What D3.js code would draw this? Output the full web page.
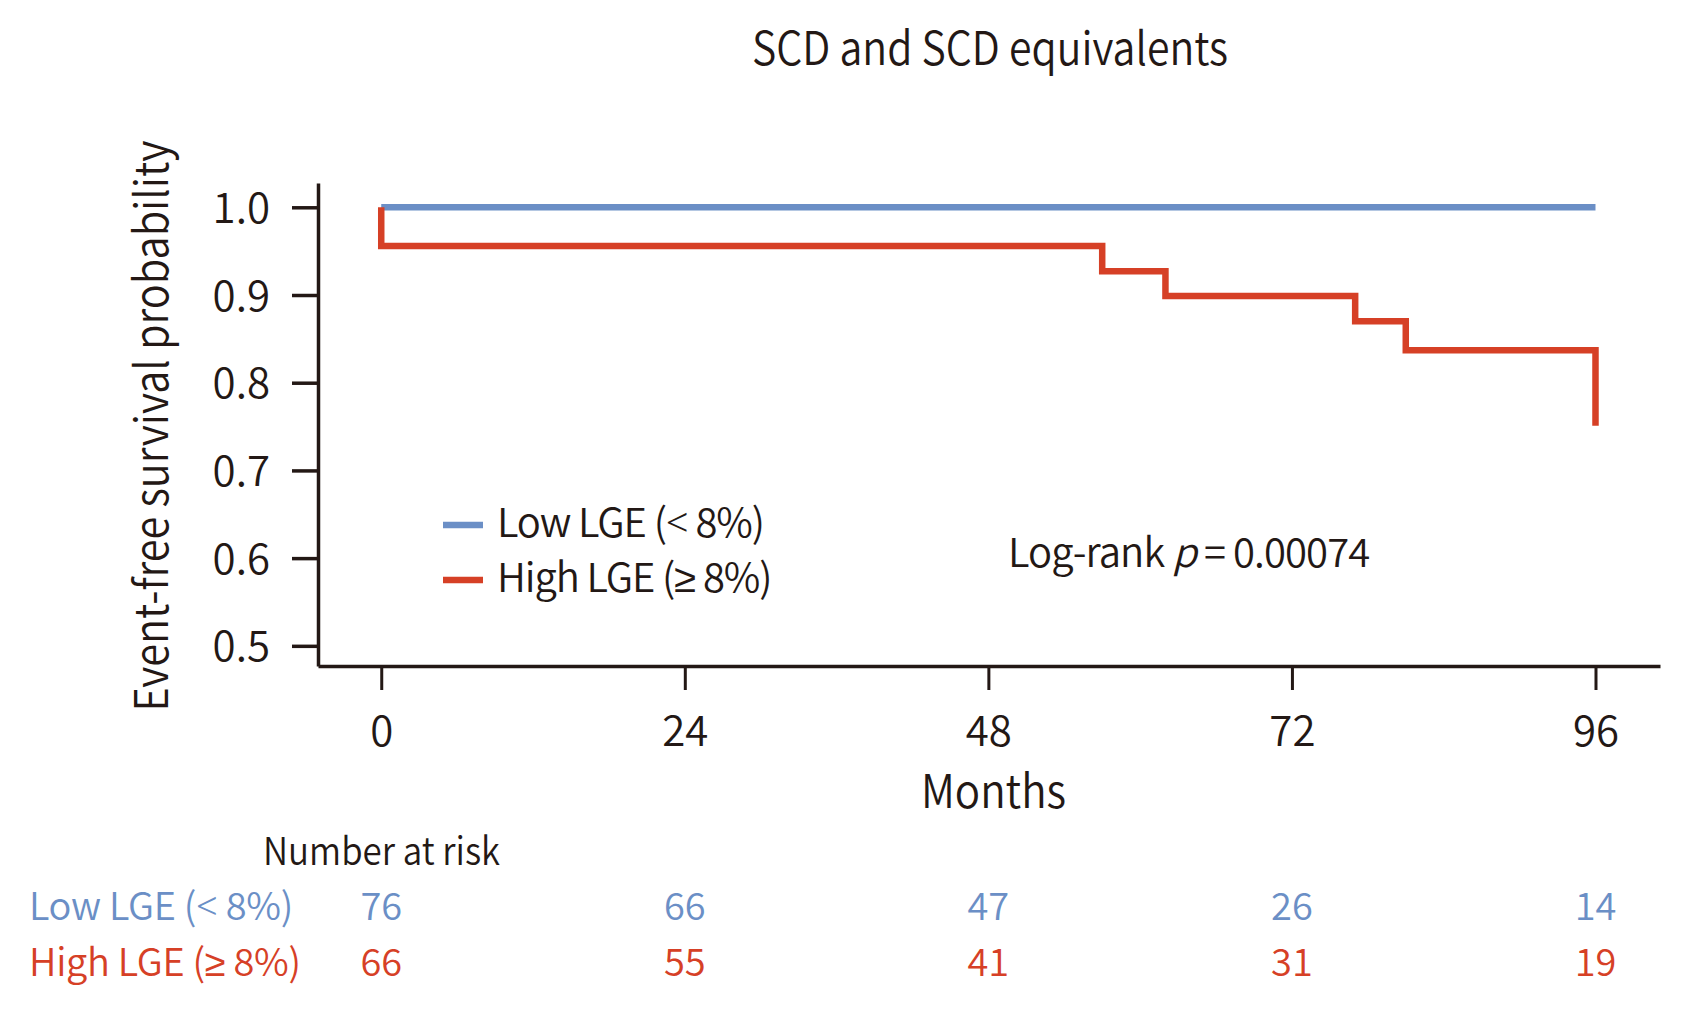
<!DOCTYPE html>
<html>
<head>
<meta charset="utf-8">
<script src="https://cdn.jsdelivr.net/npm/d3@7"></script>
<style>
  body { margin: 0; background: #fff; }
  svg { display: block; }
  text { font-family: "Noto Sans CJK KR", "Noto Sans", sans-serif; font-weight: 350; fill: #231815; }
  .ge { font-family: "Noto Sans", "DejaVu Sans", sans-serif; }
</style>
</head>
<body>
<svg id="chart" width="1690" height="1016"></svg>
<script>
// ---- data ----
const xTicks = [0, 24, 48, 72, 96];
const yTicks = [0.5, 0.6, 0.7, 0.8, 0.9, 1.0];
const lowTimes = [0, 96];
const lowSurv = [1.0, 1.0];
const highTimes = [0, 0, 57, 62, 77, 81, 96, 96];
const highSurv = [1.0, 0.956, 0.927, 0.899, 0.870, 0.837, 0.837, 0.751];
const groupNames = [["Low LGE (", "<", " 8%)"], ["High LGE (", "\u2265", " 8%)"]];
const lowAtRisk = [76, 66, 47, 26, 14];
const highAtRisk = [66, 55, 41, 31, 19];
const titleText = "SCD and SCD equivalents";
const xLabel = "Months";
const yLabel = "Event-free survival probability";
const pValueText = "0.00074";

const BLUE = "#6b8fc6", RED = "#d64026", INK = "#231815";
const FONT = '"Noto Sans CJK KR", "Noto Sans", sans-serif';

const svg = d3.select("#chart");
const x = d3.scaleLinear().domain([-5, 101.1]).range([318, 1660]);
const y = d3.scaleLinear().domain([0.477, 1.0277]).range([666, 183]);

function fit(sel, w) {
  sel.attr("textLength", w).attr("lengthAdjust", "spacingAndGlyphs");
  return sel;
}
function groupLabel(sel, parts) {
  sel.append("tspan").text(parts[0]);
  sel.append("tspan").attr("class", "ge").text(parts[1]);
  sel.append("tspan").text(parts[2]);
  return sel;
}

// title
fit(svg.append("text").attr("x", 752).attr("y", 65).attr("font-size", 46).text(titleText), 476);

// y axis
const yAxis = svg.append("g").attr("transform", `translate(318,0)`)
  .call(d3.axisLeft(y).tickValues(yTicks).tickFormat(d3.format(".1f")).tickSize(26).tickSizeOuter(0).tickPadding(22));
yAxis.select(".domain").attr("stroke", INK).attr("stroke-width", 3.5);
yAxis.selectAll(".tick line").attr("stroke", INK).attr("stroke-width", 3.5);
yAxis.selectAll(".tick text").attr("font-size", 42).attr("fill", INK)
  .attr("font-family", FONT).attr("font-weight", 350).attr("dy", "0.36em");

// x axis
const xAxis = svg.append("g").attr("transform", `translate(0,666)`)
  .call(d3.axisBottom(x).tickValues(xTicks).tickSize(24).tickSizeOuter(0));
xAxis.select(".domain").attr("stroke", INK).attr("stroke-width", 3.5);
xAxis.selectAll(".tick line").attr("stroke", INK).attr("stroke-width", 3);
xAxis.selectAll(".tick text").attr("font-size", 42).attr("fill", INK)
  .attr("font-family", FONT).attr("font-weight", 350)
  .attr("y", 80).attr("dy", 0);

// axis labels
fit(svg.append("text").attr("x", 921).attr("y", 808).attr("font-size", 46).text(xLabel), 145);
fit(svg.append("text").attr("transform", "translate(168,426) rotate(-90)")
  .attr("text-anchor", "middle").attr("font-size", 46).text(yLabel), 571);

// curves
const line = d3.line().x(d => x(d[0])).y(d => y(d[1])).curve(d3.curveStepAfter);
svg.append("path").datum(lowTimes.map((t, i) => [t, lowSurv[i]]))
  .attr("d", line).attr("fill", "none").attr("stroke", BLUE).attr("stroke-width", 6.5);
svg.append("path").datum(highTimes.map((t, i) => [t, highSurv[i]]))
  .attr("d", line).attr("fill", "none").attr("stroke", RED).attr("stroke-width", 6.5);

// legend
const legY = [525, 580], legC = [BLUE, RED];
groupNames.forEach((g, i) => {
  svg.append("line").attr("x1", 443).attr("x2", 483).attr("y1", legY[i]).attr("y2", legY[i])
    .attr("stroke", legC[i]).attr("stroke-width", 6.5);
  groupLabel(svg.append("text").attr("x", 497).attr("y", legY[i] + 12).attr("font-size", 40)
    .attr("letter-spacing", -1.1), g);
});

// log-rank
const lr = svg.append("text").attr("x", 1008).attr("y", 567).attr("font-size", 40).attr("letter-spacing", -0.9);
lr.append("tspan").text("Log-rank ");
lr.append("tspan").attr("font-style", "italic").text("p");
lr.append("tspan").text(" = " + pValueText);

// number at risk
fit(svg.append("text").attr("x", 263).attr("y", 865).attr("font-size", 38).text("Number at risk"), 237);
const rows = [lowAtRisk, highAtRisk], rowY = [920, 976];
rows.forEach((vals, i) => {
  groupLabel(svg.append("text").attr("x", 29).attr("y", rowY[i]).attr("font-size", 38)
    .attr("letter-spacing", -0.3).style("fill", legC[i]), groupNames[i])
    .selectAll("tspan").style("fill", legC[i]);
  svg.selectAll(null).data(vals).enter().append("text")
    .attr("x", (d, j) => x(xTicks[j])).attr("y", rowY[i])
    .attr("text-anchor", "middle").attr("font-size", 38).style("fill", legC[i])
    .text(d => d);
});
</script>
</body>
</html>
